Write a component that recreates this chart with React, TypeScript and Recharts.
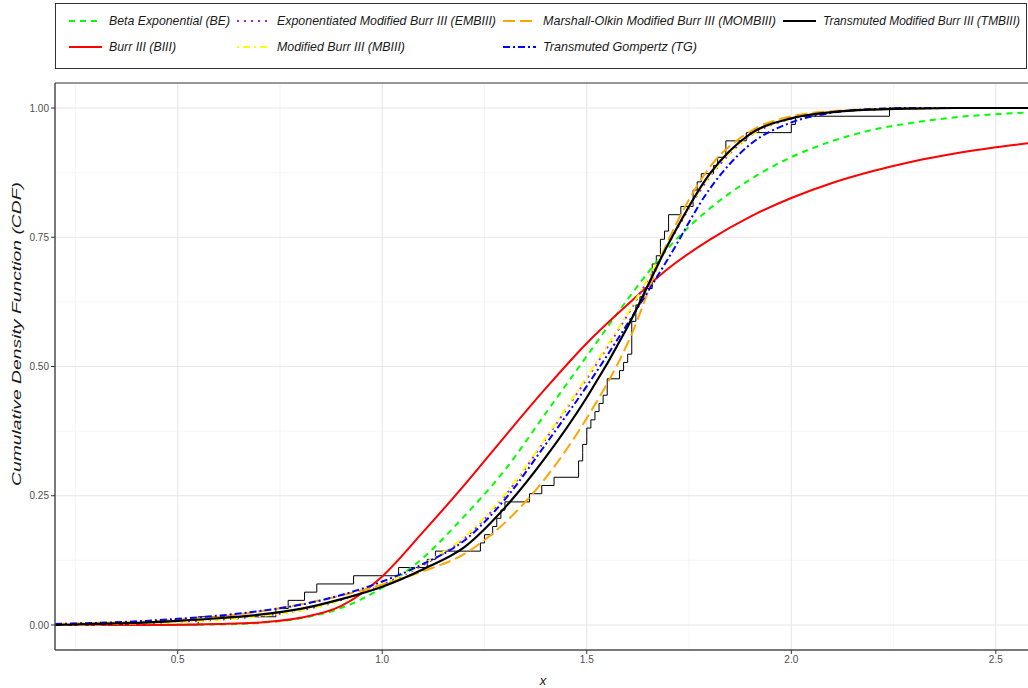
import { CartesianGrid, Legend, Line, LineChart, ReferenceLine, XAxis, YAxis } from "recharts";

// sample points where the fitted curves were read
const xGrid = [
  0.2, 0.3, 0.4, 0.5, 0.6, 0.7, 0.8, 0.9, 1.0, 1.1, 1.2, 1.3, 1.4, 1.5, 1.6, 1.7, 1.8,
  1.9, 2.0, 2.1, 2.2, 2.3, 2.4, 2.5, 2.6,
];

const beCdf = [
  0, 0, 0, 0.0003, 0.001, 0.004, 0.013, 0.033, 0.072, 0.13, 0.21, 0.3, 0.41, 0.52, 0.63,
  0.73, 0.805, 0.862, 0.905, 0.936, 0.958, 0.972, 0.982, 0.988, 0.992,
];
const biiiCdf = [
  0, 0, 0, 0.0005, 0.002, 0.005, 0.014, 0.037, 0.094, 0.18, 0.27, 0.365, 0.458, 0.545,
  0.62, 0.69, 0.745, 0.79, 0.826, 0.855, 0.878, 0.897, 0.912, 0.924, 0.934,
];
const embiiiCdf = [
  0, 0.001, 0.003, 0.006, 0.01, 0.017, 0.028, 0.048, 0.078, 0.116, 0.167, 0.25, 0.36,
  0.476, 0.6, 0.738, 0.866, 0.946, 0.979, 0.992, 0.997, 0.999, 1, 1, 1,
];
const mbiiiCdf = [
  0, 0.001, 0.003, 0.006, 0.01, 0.017, 0.028, 0.048, 0.079, 0.118, 0.17, 0.253, 0.363,
  0.48, 0.603, 0.74, 0.868, 0.947, 0.98, 0.992, 0.997, 0.999, 1, 1, 1,
];
const mombiiiCdf = [
  0.002, 0.004, 0.006, 0.01, 0.016, 0.026, 0.04, 0.057, 0.078, 0.104, 0.137, 0.198, 0.285,
  0.4, 0.545, 0.745, 0.885, 0.955, 0.984, 0.994, 0.998, 1, 1, 1, 1,
];
const tgCdf = [
  0.002, 0.004, 0.007, 0.012, 0.018, 0.027, 0.039, 0.058, 0.084, 0.118, 0.163, 0.243,
  0.35, 0.462, 0.583, 0.71, 0.843, 0.93, 0.972, 0.991, 0.998, 1, 1, 1, 1,
];
const tmbiiiCdf = [
  0, 0.002, 0.004, 0.008, 0.013, 0.02, 0.031, 0.05, 0.074, 0.108, 0.15, 0.227, 0.325,
  0.44, 0.577, 0.738, 0.872, 0.95, 0.98, 0.992, 0.997, 0.999, 1, 1, 1,
];

// observed sample (sorted) behind the empirical step curve
const sample = [
  0.55, 0.74, 0.77, 0.81, 0.84, 0.93, 1.04, 1.11, 1.13, 1.24, 1.25, 1.27, 1.28, 1.29, 1.3,
  1.36, 1.39, 1.42, 1.48, 1.48, 1.49, 1.49, 1.5, 1.5, 1.51, 1.52, 1.53, 1.54, 1.55, 1.55,
  1.58, 1.59, 1.6, 1.61, 1.61, 1.61, 1.61, 1.62, 1.62, 1.63, 1.64, 1.66, 1.66, 1.66, 1.67,
  1.68, 1.68, 1.69, 1.7, 1.7, 1.73, 1.76, 1.76, 1.77, 1.78, 1.81, 1.82, 1.84, 1.84, 1.89,
  2.0, 2.01, 2.24,
];

const xTicks = [0.5, 1.0, 1.5, 2.0, 2.5];
const yTicks = [0, 0.25, 0.5, 0.75, 1.0];
const xMinor = [0.25, 0.75, 1.25, 1.75, 2.25];
const yMinor = [0.125, 0.375, 0.625, 0.875];

const X_MIN = 0.2;
const X_MAX = 2.608;
const Y_MIN = -0.0484;
const Y_MAX = 1.0484;

const FONT = "'Liberation Sans', Arial, Helvetica, sans-serif";

const curveData = xGrid.map((x, i) => ({
  x,
  be: beCdf[i],
  biii: biiiCdf[i],
  embiii: embiiiCdf[i],
  mbiii: mbiiiCdf[i],
  mombiii: mombiiiCdf[i],
  tg: tgCdf[i],
  tmbiii: tmbiiiCdf[i],
}));

const ecdfData = [
  { x: X_MIN, y: 0 },
  ...sample.map((v, i) => ({ x: v, y: (i + 1) / sample.length })),
  { x: X_MAX, y: 1 },
];

type Series = {
  key: string;
  label: string;
  color: string;
  dash?: string;
  width: number;
  row: number;
  col: number;
  textWidth: number;
};

const series: Series[] = [
  { key: "be", label: "Beta Exponential (BE)", color: "#00ff00", dash: "6 5", width: 2, row: 0, col: 0, textWidth: 121 },
  { key: "biii", label: "Burr III (BIII)", color: "#ff0000", width: 2, row: 1, col: 0, textWidth: 67 },
  { key: "embiii", label: "Exponentiated Modified Burr III (EMBIII)", color: "#a020f0", dash: "2 5", width: 2, row: 0, col: 1, textWidth: 219 },
  { key: "mbiii", label: "Modified Burr III (MBIII)", color: "#ffff00", dash: "2 4 7 4", width: 2, row: 1, col: 1, textWidth: 128 },
  { key: "mombiii", label: "Marshall-Olkin Modified Burr III (MOMBIII)", color: "#ffa500", dash: "12 5", width: 2, row: 0, col: 2, textWidth: 233 },
  { key: "tg", label: "Transmuted Gompertz (TG)", color: "#0000ff", dash: "7 3 2 3", width: 2, row: 1, col: 2, textWidth: 154 },
  { key: "tmbiii", label: "Transmuted Modified Burr III (TMBIII)", color: "#000000", width: 2.2, row: 0, col: 3, textWidth: 197 },
];

const keyX = [69, 237, 503, 783];
const textX = [109, 277, 543, 823];
const rowY = [21, 47];

const renderLegend = () => (
  <svg width={1028} height={70} style={{ display: "block" }}>
    <rect x={55.5} y={3.5} width={971} height={65} fill="#fff" stroke="#333" strokeWidth={1} />
    {series.map((s) => (
      <g key={s.key}>
        <line
          x1={keyX[s.col]}
          x2={keyX[s.col] + 33}
          y1={rowY[s.row]}
          y2={rowY[s.row]}
          stroke={s.color}
          strokeWidth={s.width}
          strokeDasharray={s.dash}
        />
        <text
          x={textX[s.col]}
          y={rowY[s.row]}
          dominantBaseline="central"
          fontFamily={FONT}
          fontStyle="italic"
          fontSize={12.2}
          textLength={s.textWidth}
          lengthAdjust="spacingAndGlyphs"
          fill="#1a1a1a"
        >
          {s.label}
        </text>
      </g>
    ))}
  </svg>
);

const XTick = (props: any) => {
  const { x, y, payload } = props;
  return (
    <text x={x} y={y} dy="0.71em" textAnchor="middle" fontFamily={FONT} fontSize={10} fill="#4d4d4d">
      {Number(payload.value).toFixed(1)}
    </text>
  );
};

const YTick = (props: any) => {
  const { x, y, payload } = props;
  return (
    <text x={x} y={y} dy="0.355em" textAnchor="end" fontFamily={FONT} fontSize={10} fill="#4d4d4d">
      {Number(payload.value).toFixed(2)}
    </text>
  );
};

export default function App() {
  return (
    <div style={{ position: "absolute", left: 0, top: 0, width: 1028, height: 688, overflow: "hidden", background: "#fff" }}>
      <LineChart
        width={1050}
        height={688}
        data={curveData}
        margin={{ top: 13, right: 10, bottom: 8, left: 10 }}
      >
        <CartesianGrid
          stroke="#f2f2f2"
          strokeWidth={0.7}
          horizontalValues={yMinor}
          verticalValues={xMinor}
        />
        <CartesianGrid
          stroke="#e6e6e6"
          strokeWidth={1}
          horizontalValues={yTicks}
          verticalValues={xTicks}
        />
        <XAxis
          dataKey="x"
          type="number"
          domain={[X_MIN, X_MAX]}
          ticks={xTicks}
          allowDataOverflow
          height={30}
          tick={<XTick />}
          tickSize={4}
          axisLine={{ stroke: "#4d4d4d", strokeWidth: 1.5 }}
          tickLine={{ stroke: "#333" }}
          label={{
            content: () => (
              <text x={543} y={685} textAnchor="middle" fontFamily={FONT} fontStyle="italic" fontSize={13} fill="#1a1a1a">
                x
              </text>
            ),
          }}
        />
        <YAxis
          type="number"
          domain={[Y_MIN, Y_MAX]}
          ticks={yTicks}
          allowDataOverflow
          width={45}
          tick={<YTick />}
          tickSize={4}
          axisLine={{ stroke: "#4d4d4d", strokeWidth: 1.5 }}
          tickLine={{ stroke: "#333" }}
          label={{
            content: () => (
              <text
                x={21}
                y={334}
                transform="rotate(-90 21 334)"
                textAnchor="middle"
                fontFamily={FONT}
                fontStyle="italic"
                fontSize={13.5}
                textLength={304}
                lengthAdjust="spacingAndGlyphs"
                fill="#1a1a1a"
              >
                Cumulative Density Function (CDF)
              </text>
            ),
          }}
        />
        <ReferenceLine y={Y_MAX} stroke="#333" strokeWidth={1} />
        <Legend verticalAlign="top" content={renderLegend} wrapperStyle={{ top: 0, left: 0, width: 1028 }} />
        <Line
          data={ecdfData}
          dataKey="y"
          type="stepAfter"
          stroke="#000"
          strokeWidth={1}
          dot={false}
          legendType="none"
          isAnimationActive={false}
        />
        {series.map((s) => (
          <Line
            key={s.key}
            dataKey={s.key}
            type="monotone"
            stroke={s.color}
            strokeWidth={s.width}
            strokeDasharray={s.dash}
            dot={false}
            activeDot={false}
            isAnimationActive={false}
          />
        ))}
      </LineChart>
    </div>
  );
}
